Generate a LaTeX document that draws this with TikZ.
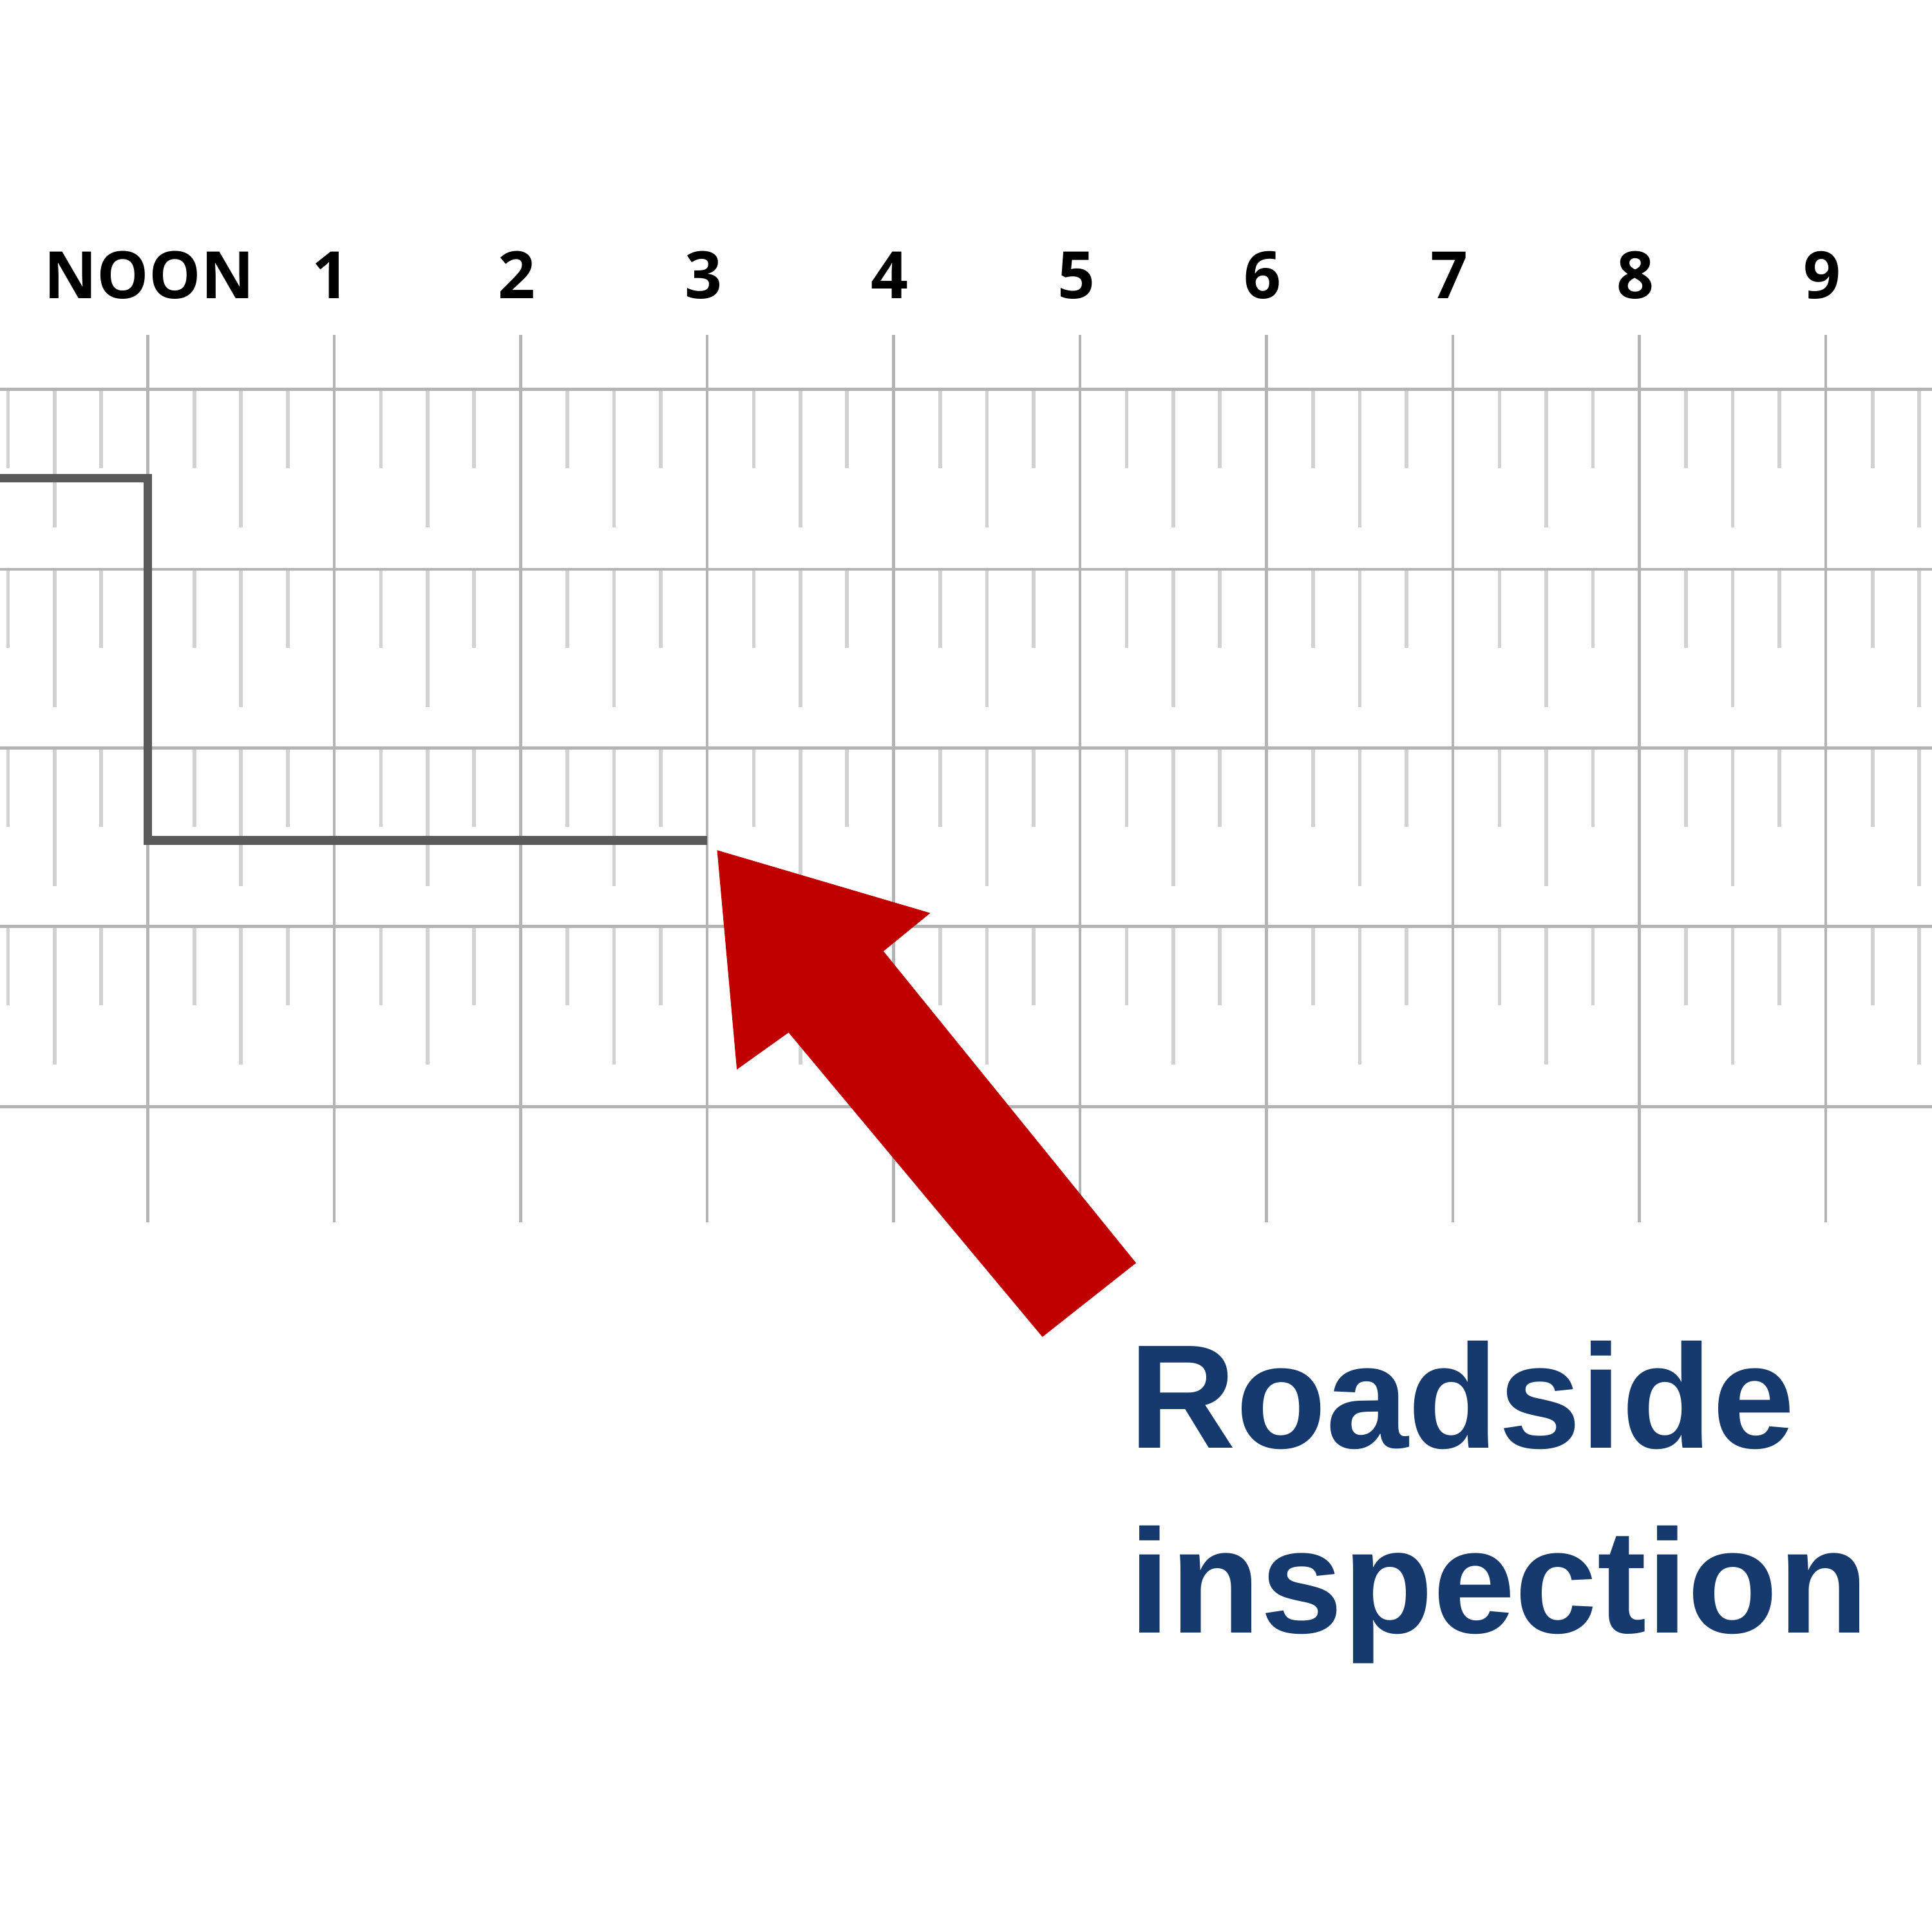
\documentclass[tikz,border=0pt]{standalone}
\usepackage{fontspec}
\newfontfamily\hourfont{Open Sans}
\newfontfamily\labelfont{Liberation Sans}
\definecolor{gridgray}{HTML}{B4B4B4}
\definecolor{tickgray}{HTML}{D2D2D2}
\definecolor{stepgray}{HTML}{5A5A5A}
\definecolor{arrowred}{HTML}{C00000}
\definecolor{labelblue}{HTML}{173A6E}
\tikzset{every picture/.style={line width=0.75pt},
  hourline/.style={draw=gridgray,line width=2.5pt},
  rowline/.style={draw=gridgray,line width=2.5pt},
  tickline/.style={draw=tickgray,line width=3pt},
  hourlabel/.style={anchor=base,inner sep=0.75pt,font=\hourfont\bfseries\fontsize{53}{55}\selectfont},
  bigcallout/.style={anchor=base west,inner sep=0pt,text=labelblue,font=\labelfont\bfseries\fontsize{120}{122}\selectfont}}

\begin{document}
\begin{tikzpicture}[x=1pt,y=1pt,yscale=-1,xscale=1]
\useasboundingbox[fill=white] (0,0) rectangle (1568,1568);

%Ticks in each row
\foreach \y in {316,462,607,752}{
  \foreach \k in {-3,...,38}{
    \pgfmathsetmacro{\x}{120+\k*37.83}
    \pgfmathtruncatemacro{\m}{mod(\k+8,4)}
    \ifnum\m=2
      \draw[tickline] (\x,\y) -- (\x,\y+112);
    \else\ifnum\m=0\else
      \draw[tickline] (\x,\y) -- (\x,\y+64);
    \fi\fi
  }
}
%Row lines
\foreach \y in {316,462,607,752,898}
  \draw[rowline] (0,\y) -- (1568,\y);
%Hour lines
\foreach \k in {0,...,9}
  \draw[hourline] (120+\k*151.3,272) -- (120+\k*151.3,992);

%Duty status line
\coordinate (s0) at (0,388);
\coordinate (s1) at (120,388);
\coordinate (s2) at (120,682);
\coordinate (s3) at (574,682);
\draw[stepgray,line width=7pt] (s0) -- (s1) -- (s2) -- (s3);

%Shape: Block arrow
\fill[arrowred] (582,690) -- (755,741) -- (717,772) -- (922,1025) -- (846,1085) -- (640,838) -- (598,868) -- cycle;

% Text Node
\node[hourlabel] (noon) at (121,242) {NOON};
\foreach \k in {1,...,9}
  \node[hourlabel] (h\k) at (120+\k*151.3-3,242) {\k};
% Text Node
\node[bigcallout] (road) at (916,1175) {Roadside};
\node[bigcallout] (insp) at (916,1325) {inspection};

\end{tikzpicture}
\end{document}
